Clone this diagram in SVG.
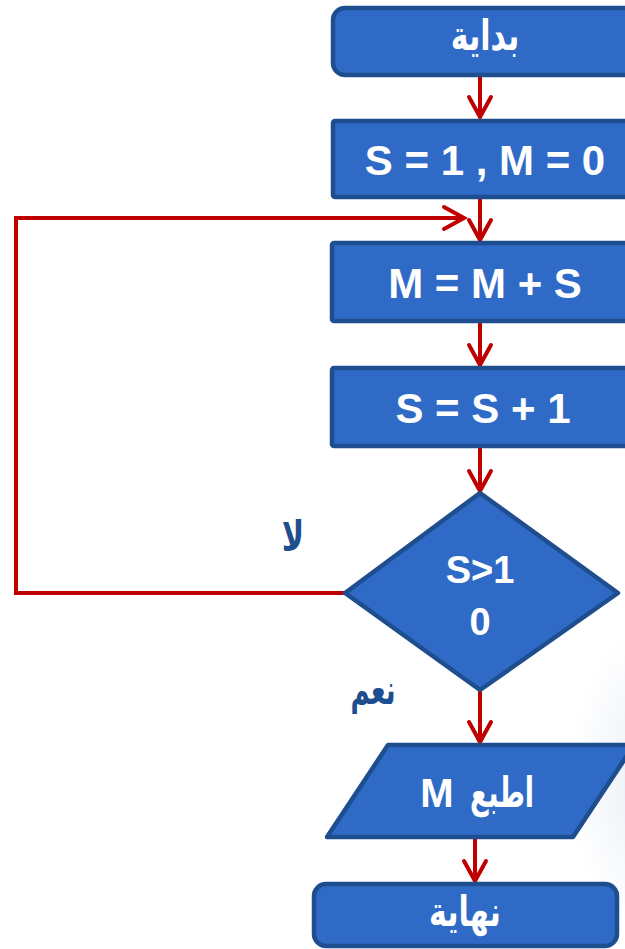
<svg xmlns="http://www.w3.org/2000/svg" width="625" height="949" viewBox="0 0 625 949">
  <style>
    .box { fill: #2F6BC6; stroke: #1F4E8E; stroke-width: 4.5; stroke-linejoin: round; }
    .lbl { fill: #ffffff; font-family: "Liberation Sans", "DejaVu Sans", sans-serif; font-weight: bold; text-anchor: middle; }
    .ar { font-family: "DejaVu Sans", "Liberation Sans", sans-serif; font-weight: bold; }
    .tag { fill: #1F4E8E; font-family: "DejaVu Sans", "Liberation Sans", sans-serif; font-weight: bold; text-anchor: middle; }
    .wire { fill: none; stroke: #C00000; stroke-width: 4; stroke-linejoin: miter; }
  </style>
  <defs>
    <marker id="head" markerUnits="userSpaceOnUse" markerWidth="30" markerHeight="30" viewBox="-15 -25 30 30" refX="0" refY="0" orient="auto-start-reverse" overflow="visible">
      <path d="M -20,-11 L 0,0 L -20,11" fill="none" stroke="#C00000" stroke-width="4" stroke-linecap="round" stroke-linejoin="miter"/>
    </marker>
    <radialGradient id="haze" cx="0.5" cy="0.5" r="0.5">
      <stop offset="0" stop-color="#e9eef5" stop-opacity="0.9"/>
      <stop offset="1" stop-color="#e9eef5" stop-opacity="0"/>
    </radialGradient>
  </defs>

  <rect width="625" height="949" fill="#ffffff"/>
  <ellipse cx="640" cy="780" rx="70" ry="150" fill="url(#haze)"/>

  <!-- connectors -->
  <g id="connectors">
    <path class="wire" d="M480,76 V117" marker-end="url(#head)"/>
    <path class="wire" d="M480,199 V240" marker-end="url(#head)"/>
    <path class="wire" d="M345,593 H16 V218 H464" marker-end="url(#head)"/>
    <path class="wire" d="M480,323 V365" marker-end="url(#head)"/>
    <path class="wire" d="M480,448 V491" marker-end="url(#head)"/>
    <path class="wire" d="M480,691 V742" marker-end="url(#head)"/>
    <path class="wire" d="M475,839 V881" marker-end="url(#head)"/>
  </g>

  <!-- start -->
  <g id="start">
    <rect class="box" x="333" y="8" width="305" height="67" rx="12"/>
    <text class="lbl ar" transform="translate(485,50) scale(1,1.4)" font-size="30" direction="rtl">بداية</text>
  </g>

  <!-- initialise -->
  <g id="init">
    <rect class="box" x="333" y="121" width="305" height="76" rx="2"/>
    <text class="lbl" x="485" y="175" font-size="42">S = 1 , M = 0</text>
  </g>

  <!-- accumulate -->
  <g id="accumulate">
    <rect class="box" x="332" y="243" width="305" height="78" rx="2"/>
    <text class="lbl" x="485" y="298" font-size="42">M = M + S</text>
  </g>

  <!-- increment -->
  <g id="increment">
    <rect class="box" x="332" y="368" width="305" height="78" rx="2"/>
    <text class="lbl" x="483" y="423" font-size="42">S = S + 1</text>
  </g>

  <!-- decision -->
  <g id="decision">
    <polygon class="box" points="480,493 618,593 480,690 345,593"/>
    <text class="lbl" x="480" y="583" font-size="38">S&gt;1</text>
    <text class="lbl" x="480" y="635" font-size="38">0</text>
  </g>

  <!-- branch labels -->
  <g id="label-no">
    <text class="tag" transform="translate(293,551) scale(1,1.4)" font-size="30" direction="rtl">لا</text>
  </g>
  <g id="label-yes">
    <text class="tag" transform="translate(373,704) scale(1,1.6)" font-size="26" direction="rtl">نعم</text>
  </g>

  <!-- output: print M -->
  <g id="output">
    <polygon class="box" points="388,745 634,745 573,837 327,837"/>
    <text class="lbl" x="437" y="807" font-size="40">M</text>
    <text class="lbl ar" transform="translate(502,807) scale(1,1.55)" font-size="27" direction="rtl">اطبع</text>
  </g>

  <!-- end -->
  <g id="end">
    <rect class="box" x="314" y="884" width="303" height="62" rx="12"/>
    <text class="lbl ar" transform="translate(465,926) scale(1,1.4)" font-size="30" direction="rtl">نهاية</text>
  </g>
</svg>
